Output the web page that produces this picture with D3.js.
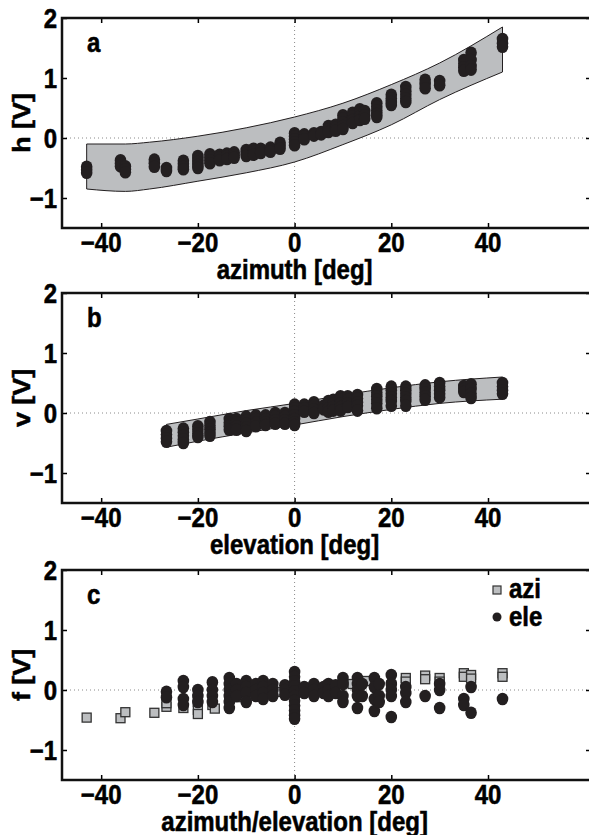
<!DOCTYPE html>
<html>
<head>
<meta charset="utf-8">
<script src="https://cdn.jsdelivr.net/npm/d3@7"></script>
<style>
  body { margin: 0; background: #fff; }
  text { font-family: "Liberation Sans", Arial, sans-serif; font-weight: bold; fill: #000; stroke: #000; stroke-width: 0.5px; }
</style>
</head>
<body>
<script>
//Data
const xTicks = [-40, -20, 0, 20, 40];
const yTicks = [-1, 0, 1, 2];

//panel a: azimuth -> h, band and point clusters
const bandAX = [-43, -35, -30, -20, -10, 0, 10, 20, 30, 43];
const bandAUp = [-0.1, -0.1, -0.07, 0.03, 0.17, 0.35, 0.58, 0.89, 1.25, 1.85];
const bandALo = [-0.85, -0.89, -0.85, -0.72, -0.58, -0.4, -0.11, 0.22, 0.64, 1.1];
const hAz = [-43, -36, -35, -29, -26.5, -23, -20, -17.5, -15.5, -14, -12.5, -10, -8.5, -7, -5, -3,
  0, 2, 4, 5.5, 7, 8.5, 10, 12, 13.5, 14.5, 17, 20, 23, 27, 30, 35, 36.5, 43];
const hVals = [
  [-0.48, -0.53, -0.58], [-0.37, -0.42, -0.47], [-0.47, -0.52, -0.57], [-0.36, -0.42, -0.48],
  [-0.5, -0.55], [-0.38, -0.43, -0.48, -0.52], [-0.3, -0.35, -0.4, -0.45, -0.5], [-0.27, -0.32, -0.37, -0.42],
  [-0.28, -0.33, -0.37], [-0.26, -0.3, -0.35], [-0.24, -0.29, -0.33], [-0.2, -0.25, -0.3],
  [-0.18, -0.23, -0.28], [-0.18, -0.22, -0.25], [-0.16, -0.2, -0.23], [-0.08, -0.13, -0.18],
  [0.08, 0.03, -0.02, -0.07, -0.12], [0.06, 0.02, -0.02], [0.08, 0.04], [0.1, 0.06],
  [0.2, 0.15, 0.1], [0.22, 0.17, 0.12], [0.38, 0.32, 0.26, 0.2, 0.15], [0.42, 0.36, 0.3, 0.25],
  [0.48, 0.42, 0.36, 0.3], [0.45, 0.38, 0.32], [0.58, 0.52, 0.46, 0.4, 0.35], [0.72, 0.66, 0.6, 0.55],
  [0.85, 0.78, 0.72, 0.66, 0.6], [0.97, 0.9, 0.83], [0.95, 0.88], [1.3, 1.24, 1.18, 1.12],
  [1.42, 1.3, 1.2, 1.14], [1.65, 1.58, 1.52]
];

//panel b: elevation -> v
const bandBX = [-26.5, -20, -10, 0, 10, 20, 30, 43];
const bandBUp = [-0.19, -0.1, 0.04, 0.16, 0.3, 0.42, 0.52, 0.6];
const bandBLo = [-0.57, -0.47, -0.33, -0.2, -0.06, 0.06, 0.16, 0.23];
const vEl = [-26.5, -23, -20, -17.5, -13.5, -12, -10, -8, -6, -4, -2, 0, 2, 4, 6, 7, 8, 9.5, 11, 13,
  17, 20, 23, 27, 30, 35, 36.5, 43];
const vVals = [
  [-0.3, -0.36, -0.42, -0.48], [-0.26, -0.32, -0.38, -0.44, -0.5], [-0.22, -0.28, -0.34, -0.4],
  [-0.15, -0.21, -0.27, -0.33, -0.38], [-0.1, -0.16, -0.22, -0.28], [-0.1, -0.16, -0.22, -0.28],
  [-0.06, -0.12, -0.18, -0.24, -0.3], [-0.04, -0.1, -0.16, -0.22], [-0.04, -0.1, -0.16, -0.2],
  [0, -0.06, -0.12, -0.18], [0, -0.06, -0.12, -0.18], [0.14, 0.08, 0.02, -0.04, -0.1, -0.16, -0.2],
  [0.14, 0.08, 0.02], [0.18, 0.12, 0.06, 0], [0.12, 0.06], [0.2, 0.14, 0.08, 0.02],
  [0.22, 0.16, 0.1, 0.04], [0.28, 0.22, 0.16, 0.1, 0.04], [0.28, 0.22, 0.16, 0.1],
  [0.3, 0.24, 0.18, 0.12, 0.04], [0.4, 0.34, 0.28, 0.22, 0.16, 0.08], [0.44, 0.38, 0.32, 0.26, 0.2, 0.12],
  [0.44, 0.38, 0.32, 0.26, 0.2, 0.12], [0.46, 0.4, 0.34, 0.28, 0.22], [0.5, 0.44, 0.38, 0.32, 0.26],
  [0.45, 0.4, 0.35], [0.48, 0.4, 0.32, 0.25], [0.5, 0.44, 0.38, 0.32]
];

//panel c: f for azimuth (squares) and elevation (circles)
const fAziDeg = [-43, -36, -35, -29, -26.5, -26.5, -23, -20, -20, -20, -17, -16.5, -13.5, -12, -10, -8, -5, -3,
  2, 4, 7, 10, 12, 13.5, 15, 17, 20, 23, 23, 27, 27, 30, 30, 35, 35, 36.5, 36.5, 43, 43];
const fAziVal = [-0.46, -0.47, -0.37, -0.38, -0.28, -0.22, -0.3, -0.2, -0.33, -0.4, -0.25, -0.31, -0.15, -0.12, -0.1, -0.08, -0.05, -0.03,
  0.02, 0.05, 0.08, 0.12, 0.1, 0.12, 0.15, 0.1, 0.08, 0.2, 0.14, 0.24, 0.18, 0.2, 0.14, 0.28, 0.22, 0.25, 0.19, 0.28, 0.22];
const fEleDeg = [-26.5, -23, -20, -17, -13.5, -12, -10, -8, -6.5, -4.5, -2, 0, 2, 4, 6, 7, 8.5, 10, 13, 14,
  16.5, 17.5, 20, 23, 27, 30, 35, 36.5, 43];
const fEleVals = [
  [-0.03, -0.12], [0.15, 0.05, -0.15, -0.25], [0, -0.1, -0.2], [0.13, 0, -0.1, -0.2],
  [0.2, 0.1, 0, -0.1, -0.2, -0.3], [0.1, 0, -0.1], [0.15, 0.05, -0.05, -0.2], [0.1, 0, -0.1],
  [0.15, 0.05, -0.05, -0.15], [0.1, 0, -0.1], [0.08, 0, -0.08],
  [0.3, 0.22, 0.14, 0.06, -0.02, -0.1, -0.18, -0.26, -0.34, -0.42, -0.48],
  [0.05, -0.05], [0.1, 0, -0.1], [0.05, -0.05], [0.1, 0, -0.1], [0.08, -0.05],
  [0.2, 0.1, -0.1, -0.2], [0.2, 0.1, 0, -0.1, -0.3], [0.1, -0.1], [0.2, 0.05, -0.15, -0.35],
  [0.1, -0.1, -0.2], [0.25, 0.1, 0, -0.1, -0.45], [0.05, -0.05, -0.2], [-0.1], [0.1, 0, -0.3],
  [-0.15, -0.25], [0.05, -0.38], [-0.15]
];

const W = 589, H = 835;
const dark = "#231f20", bandFill = "#bcbec0", sqFill = "#bcbec0";
const fs = 24, sy = 1.12; //text is a bit taller than wide in the original
const svg = d3.select("body").append("svg").attr("width", W).attr("height", H);
const fmt = d3.format("d");

const x = d3.scaleLinear().domain([-48.1, 61.3]).range([62, 591]);

const panels = [
  {top: 18, letter: "a", ylab: "h [V]", xlab: "azimuth [deg]"},
  {top: 293, letter: "b", ylab: "v [V]", xlab: "elevation [deg]"},
  {top: 570, letter: "c", ylab: "f [V]", xlab: "azimuth/elevation [deg]"}
];
const ph = 210;

function flatten(xs, vals) {
  let pts = [];
  xs.forEach((d, i) => vals[i].forEach(v => pts.push([d, v])));
  return pts;
}
//stretched text helper
function label(g, str, tx, ty, anchor, rot) {
  return g.append("text").text(str).attr("font-size", fs).attr("text-anchor", anchor || "start")
    .attr("transform", "translate(" + tx + "," + ty + ") scale(1," + sy + ")" + (rot ? " rotate(" + rot + ")" : ""));
}

panels.forEach((p, k) => {
  let y = d3.scaleLinear().domain([-1.5, 2]).range([p.top + ph, p.top]);
  let g = svg.append("g");

  //dotted zero lines
  g.append("line").attr("x1", x(0)).attr("x2", x(0)).attr("y1", p.top).attr("y2", p.top + ph)
    .attr("stroke", "#8a8a8a").attr("stroke-width", 1).attr("stroke-dasharray", "1,3");
  g.append("line").attr("x1", 62).attr("x2", 591).attr("y1", y(0)).attr("y2", y(0))
    .attr("stroke", "#8a8a8a").attr("stroke-width", 1).attr("stroke-dasharray", "1,3");

  //band + points
  if (k < 2) {
    let bx = k == 0 ? bandAX : bandBX, up = k == 0 ? bandAUp : bandBUp, lo = k == 0 ? bandALo : bandBLo;
    let area = d3.area().x((d, i) => x(bx[i])).y0((d, i) => y(lo[i])).y1((d, i) => y(up[i])).curve(d3.curveMonotoneX);
    g.append("path").attr("d", area(bx)).attr("fill", bandFill).attr("stroke", dark).attr("stroke-width", 1);
    let pts = k == 0 ? flatten(hAz, hVals) : flatten(vEl, vVals);
    g.selectAll("ellipse.pt").data(pts).enter().append("ellipse")
      .attr("cx", d => x(d[0])).attr("cy", d => y(d[1])).attr("rx", 5.8).attr("ry", 6.3).attr("fill", dark);
  } else {
    g.selectAll("rect.sq").data(fAziDeg).enter().append("rect")
      .attr("x", (d, i) => x(d) - 4.5).attr("y", (d, i) => y(fAziVal[i]) - 4.5)
      .attr("width", 9).attr("height", 9).attr("fill", sqFill).attr("stroke", "#333").attr("stroke-width", 1.3);
    g.selectAll("ellipse.pt").data(flatten(fEleDeg, fEleVals)).enter().append("ellipse")
      .attr("cx", d => x(d[0])).attr("cy", d => y(d[1])).attr("rx", 5.8).attr("ry", 6.3).attr("fill", dark);
    //legend
    g.append("rect").attr("x", 493).attr("y", 586).attr("width", 8).attr("height", 8)
      .attr("fill", sqFill).attr("stroke", "#333").attr("stroke-width", 1.2);
    label(g, "azi", 509, 598);
    g.append("circle").attr("cx", 497).attr("cy", 617).attr("r", 4.5).attr("fill", dark);
    label(g, "ele", 509, 626);
  }

  //axes, ticks pointing inward, labels drawn separately from the same scales
  let axB = g.append("g").attr("transform", "translate(0," + (p.top + ph) + ")")
    .call(d3.axisBottom(x).tickValues(xTicks).tickSize(-5).tickFormat(""));
  let axT = g.append("g").attr("transform", "translate(0," + p.top + ")")
    .call(d3.axisTop(x).tickValues(xTicks).tickSize(-5).tickFormat(""));
  let axL = g.append("g").attr("transform", "translate(62,0)")
    .call(d3.axisLeft(y).tickValues(yTicks).tickSize(-5).tickFormat(""));
  let axR = g.append("g").attr("transform", "translate(591,0)")
    .call(d3.axisRight(y).tickValues(yTicks).tickSize(-5).tickFormat(""));
  [axB, axT, axL, axR].forEach(a => {
    a.select(".domain").remove();
    a.selectAll(".tick line").attr("stroke", "#000").attr("stroke-width", 1.5);
  });
  xTicks.forEach(t => label(g, fmt(t), x(t), p.top + ph + 24, "middle"));
  yTicks.forEach(t => label(g, fmt(t), 57, y(t) + 9.5, "end"));

  //frame
  g.append("rect").attr("x", 62).attr("y", p.top).attr("width", 529).attr("height", ph)
    .attr("fill", "none").attr("stroke", "#111").attr("stroke-width", 2.5);

  //labels
  label(g, p.letter, 87, p.top + 34);
  label(g, p.xlab, x(0), p.top + ph + 51, "middle");
  label(g, p.ylab, 30, p.top + ph / 2, "middle", -90);
});
</script>
</body>
</html>
